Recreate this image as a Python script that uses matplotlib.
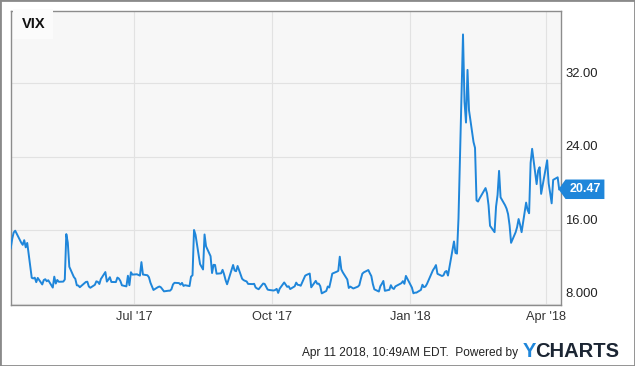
import numpy as np
import pandas as pd
import matplotlib
matplotlib.use('Agg')
from matplotlib import pyplot as plt
from matplotlib.path import Path
from matplotlib.patches import Rectangle
import matplotlib.transforms as mtransforms

plt.rcParams['font.family'] = ['Liberation Sans', 'DejaVu Sans']

# VIX daily closes, 10 Apr 2017 - 10 Apr 2018
vix_apr17 = [14.05, 15.07, 15.77, 15.96, 14.66, 14.42, 14.93, 14.15, 14.63, 10.84, 10.76, 10.85, 10.36, 10.82]
vix_may17 = [10.11, 10.59, 10.68, 10.46, 10.57, 9.77, 10.96, 10.21, 10.60, 10.40, 10.42, 10.65, 15.59, 14.66,
             12.04, 10.93, 10.72, 10.02, 9.99, 9.81, 10.38, 10.41]
vix_jun17 = [9.89, 9.75, 10.07, 10.45, 10.39, 10.16, 10.70, 11.46, 10.42, 10.64, 10.90, 10.38, 10.37, 10.86,
             10.75, 10.48, 10.02, 9.90, 11.06, 10.03, 11.44, 11.18]
vix_jul17 = [11.22, 11.07, 12.54, 11.19, 11.11, 10.89, 10.30, 9.90, 9.51, 9.82, 9.89, 9.79, 9.58, 9.36,
             9.43, 9.43, 9.60, 10.11, 10.29, 10.26]
vix_aug17 = [10.09, 10.28, 9.95, 10.03, 9.93, 10.96, 11.11, 16.04, 15.51, 12.33, 12.04, 11.74, 15.55, 14.26,
             13.19, 11.35, 12.25, 12.23, 11.28, 11.32, 11.70, 11.22, 10.59]
vix_sep17 = [10.13, 12.23, 11.63, 11.55, 12.12, 10.73, 10.58, 10.50, 10.44, 10.17, 10.15, 10.18, 9.78, 9.67,
             9.59, 10.21, 10.17, 9.87, 9.55, 9.51]
vix_oct17 = [9.45, 9.51, 9.63, 9.19, 9.65, 10.33, 10.08, 9.85, 9.91, 9.61, 9.91, 10.31, 10.07, 10.05,
             9.97, 11.07, 11.16, 11.23, 11.30, 9.80, 10.50, 10.18]
vix_nov17 = [10.20, 9.93, 9.14, 9.40, 9.89, 9.78, 10.50, 11.29, 11.50, 11.59, 13.13, 11.76, 11.43, 10.65,
             9.73, 9.88, 9.67, 9.87, 10.03, 10.70, 11.28]
vix_dec17 = [11.43, 11.68, 11.33, 11.02, 10.16, 9.58, 9.34, 9.92, 10.18, 10.49, 9.42, 9.53, 10.03, 9.72,
             9.62, 9.90, 10.25, 10.47, 10.18, 11.04]
vix_jan18 = [9.77, 9.15, 9.22, 9.22, 9.52, 10.08, 9.82, 9.88, 10.16, 11.66, 11.91, 12.22, 11.27, 11.03,
             11.10, 11.47, 11.58, 11.08, 13.84, 14.79, 13.54]
vix_feb18 = [13.47, 17.31, 37.32, 29.98, 27.73, 33.46, 29.06, 25.61, 24.97, 19.26, 19.13, 19.46, 20.60, 20.02,
             18.72, 16.49, 15.80, 18.59, 19.85]
vix_mar18 = [22.47, 19.59, 18.73, 18.36, 17.76, 16.54, 14.64, 15.78, 16.35, 17.23, 16.59, 15.80, 19.02, 18.20,
             17.86, 23.34, 24.87, 21.03, 22.50, 22.87, 19.97]
vix_apr18 = [23.62, 21.10, 20.06, 18.94, 21.49, 21.77, 20.47]

market_holidays = ['2017-04-14', '2017-05-29', '2017-07-04', '2017-09-04', '2017-11-23', '2017-12-25',
                   '2018-01-01', '2018-01-15', '2018-02-19', '2018-03-30']

x_ticks = ['2017-07-01', '2017-10-01', '2018-01-01', '2018-04-01']
x_labels = ["Jul '17", "Oct '17", "Jan '18", "Apr '18"]
y_ticks = [8, 16, 24, 32]
y_labels = ['8.000', '16.00', '24.00', '32.00']
last_label = '20.47'

values = (vix_apr17 + vix_may17 + vix_jun17 + vix_jul17 + vix_aug17 + vix_sep17 + vix_oct17
          + vix_nov17 + vix_dec17 + vix_jan18 + vix_feb18 + vix_mar18 + vix_apr18)
dates = pd.bdate_range('2017-04-10', '2018-04-10', freq='C', holidays=market_holidays)
assert len(dates) == len(values), (len(dates), len(values))

blue = '#1f86da'

fig = plt.figure(figsize=(6.35, 3.66), dpi=100, facecolor='white')
ax = fig.add_axes([0.01685, 0.1658, 0.8661, 0.8049])
ax.set_facecolor('#f7f7f7')

ax.plot(dates, values, color=blue, lw=1.4, solid_joinstyle='round', zorder=3)

ax.set_xlim(pd.Timestamp('2017-04-10'), pd.Timestamp('2018-04-11'))
ax.set_ylim(7.84, 39.9)

ax.set_xticks(pd.to_datetime(x_ticks))
ax.set_xticklabels(x_labels, fontsize=9.2, color='#333333')
ax.set_yticks(y_ticks)
ax.set_yticklabels([])
ax.tick_params(axis='both', length=0)
ax.tick_params(axis='x', pad=4)
ax.grid(True, color='#e2e2e2', lw=0.8, zorder=0)

for s in ax.spines.values():
    s.set_color('#8c8c8c')
    s.set_linewidth(1.0)

# right-hand value labels sit just above their gridlines
ytrans = mtransforms.blended_transform_factory(ax.transAxes, ax.transData)
lab_off = mtransforms.ScaledTranslation(3.2 / 72, 7.0 / 72, fig.dpi_scale_trans)
for v, lab in zip(y_ticks, y_labels):
    ax.text(1.0, v, lab, transform=ytrans + lab_off, ha='left', va='center',
            fontsize=9.4, color='#222222', clip_on=False)


# tag with left-pointing arrow for last value
def tag_box(x0, y0, width, height, mutation_size):
    pad = mutation_size * 0.3
    x0, y0 = x0 - pad, y0 - pad
    x1, y1 = x0 + width + 2 * pad, y0 + height + 2 * pad
    tip = (y1 - y0) * 0.36
    return Path([(x0, y0), (x1, y0), (x1, y1), (x0, y1), (x0 - tip, (y0 + y1) / 2), (x0, y0)],
                closed=True)


tag_off = mtransforms.ScaledTranslation(6.2 / 72, 0, fig.dpi_scale_trans)
ax.text(1.0, values[-1], last_label, transform=ytrans + tag_off, ha='left', va='center',
        fontsize=9, fontweight='bold', color='white', clip_on=False, zorder=5,
        bbox=dict(boxstyle=tag_box, fc=blue, ec='none'))

# series name box
ax.text(0.0195, 0.955, 'VIX', transform=ax.transAxes, ha='left', va='center',
        fontsize=10.5, fontweight='bold', color='#111111',
        bbox=dict(boxstyle='square,pad=0.55', fc='#fbfbfb', ec='none'))

# footer
fig.text(0.8157, 0.036, 'Apr 11 2018, 10:49AM EDT.  Powered by', ha='right', va='center',
         fontsize=8.6, color='#222222')
fig.text(0.8236, 0.040, 'Y', ha='left', va='center', fontsize=14.5, fontweight='bold', color=blue)
fig.text(0.8430, 0.040, 'CHARTS', ha='left', va='center', fontsize=14.5, fontweight='bold',
         color='#1b2533')

fig.patches.append(Rectangle((0, 0), 1, 1, transform=fig.transFigure, fill=False,
                             edgecolor='#8a8a8a', linewidth=2.0))

fig.savefig('out.png', dpi=100, facecolor='white')
